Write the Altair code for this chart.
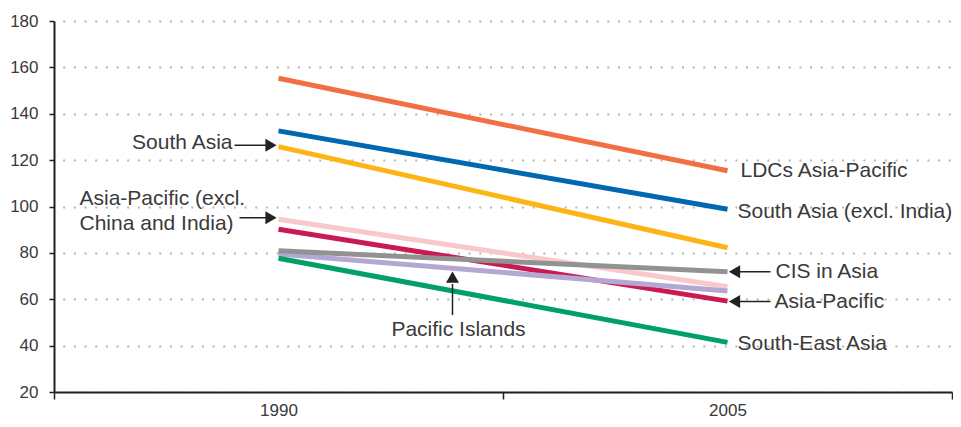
import altair as alt
import pandas as pd

# ---------------- data ----------------
years = ["1990", "2005"]
series_names = [
    "LDCs Asia-Pacific",
    "South Asia (excl. India)",
    "South Asia",
    "Asia-Pacific (excl. China and India)",
    "Asia-Pacific",
    "Pacific Islands",
    "CIS in Asia",
    "South-East Asia",
]
values_1990 = [155.3, 132.6, 125.8, 94.5, 90.2, 79.5, 80.9, 77.7]
values_2005 = [115.4, 98.8, 82.2, 65.4, 59.2, 63.6, 71.9, 41.4]
colors = ["#F26F43", "#0067B1", "#FDB515", "#F8C8CB", "#C91A51", "#B4A7D4", "#929292", "#00A066"]
y_ticks = [20, 40, 60, 80, 100, 120, 140, 160, 180]

rows = []
for order, (name, a, b) in enumerate(zip(series_names, values_1990, values_2005)):
    rows.append({"series": name, "year": years[0], "value": a, "order": order})
    rows.append({"series": name, "year": years[1], "value": b, "order": order})
df = pd.DataFrame(rows)

FONT = "Liberation Sans"
TXT = "#3a3a3a"
AXC = "#231f20"
ANN_SIZE = 21

x_enc = alt.X(
    "year:N",
    bandPosition=0.5,
    scale=alt.Scale(type="band", domain=years, paddingInner=0, paddingOuter=0),
    axis=alt.Axis(
        title=None, labelAngle=0, tickBand="extent", grid=False,
        domainColor=AXC, domainWidth=2, tickColor=AXC, tickWidth=1.5, tickSize=7,
        labelFont=FONT, labelFontSize=17, labelColor=TXT, labelPadding=3,
    ),
)
y_enc = alt.Y(
    "value:Q",
    scale=alt.Scale(domain=[20, 180], nice=False, zero=False),
    axis=alt.Axis(
        title=None, values=y_ticks, grid=True, gridColor="#b5b5b5", gridWidth=2,
        gridDash=[2, 8.67], gridDashOffset=2,
        domainColor=AXC, domainWidth=2, tickColor=AXC, tickWidth=1.5, tickSize=5,
        labelFont=FONT, labelFontSize=17, labelColor=TXT, labelPadding=11,
    ),
)

base = alt.Chart(df)

lines = base.mark_line(strokeWidth=5, strokeCap="butt").encode(
    x=x_enc,
    y=y_enc,
    color=alt.Color("series:N", scale=alt.Scale(domain=series_names, range=colors), legend=None),
    detail="series:N",
)


def at(name, year):
    return base.transform_filter((alt.datum.series == name) & (alt.datum.year == year))


def label(name, year, text, dx, dy, align="left"):
    return at(name, year).mark_text(
        text=text, dx=dx, dy=dy, align=align, baseline="middle",
        font=FONT, fontSize=ANN_SIZE, color=TXT,
    ).encode(x=x_enc, y=y_enc)


def harrow(name, year, x_from, x_to, dy, direction):
    # x_from/x_to: pixel offsets of the shaft ends relative to the anchor point
    shaft = at(name, year).mark_tick(
        orient="horizontal", size=abs(x_to - x_from), thickness=1.5, color="#222",
        xOffset=(x_from + x_to) / 2, yOffset=dy, opacity=1,
    ).encode(x=x_enc, y=y_enc)
    if direction == "right":
        head = at(name, year).mark_point(
            shape="triangle-right", filled=True, size=170, color="#222", opacity=1,
            xOffset=-7.5, yOffset=dy,
        ).encode(x=x_enc, y=y_enc)
    else:
        head = at(name, year).mark_point(
            shape="triangle-left", filled=True, size=170, color="#222", opacity=1,
            xOffset=7, yOffset=dy,
        ).encode(x=x_enc, y=y_enc)
    return shaft + head


# Pacific Islands vertical arrow
pi_shaft = at("Pacific Islands", "1990").mark_rule(
    color="#222", strokeWidth=1.5, xOffset=174, yOffset=30, y2Offset=61,
).encode(x=x_enc, y=y_enc, y2="value:Q")
pi_head = at("Pacific Islands", "1990").mark_point(
    shape="triangle-up", filled=True, size=170, color="#222", opacity=1,
    xOffset=174, yOffset=23,
).encode(x=x_enc, y=y_enc)

layers = [
    lines,
    label("South Asia", "1990", "South Asia", -46, -3.5, "right"),
    harrow("South Asia", "1990", -44, -12, -1.5, "right"),
    label("Asia-Pacific (excl. China and India)", "1990", "Asia-Pacific (excl.", -199, -20.5),
    label("Asia-Pacific (excl. China and India)", "1990", "China and India)", -199, 5),
    harrow("Asia-Pacific (excl. China and India)", "1990", -39, -12, -1.5, "right"),
    label("LDCs Asia-Pacific", "2005", "LDCs Asia-Pacific", 13, 0.5),
    label("South Asia (excl. India)", "2005", "South Asia (excl. India)", 10, 2.5),
    label("CIS in Asia", "2005", "CIS in Asia", 48, 0),
    harrow("CIS in Asia", "2005", 11, 43, 0, "left"),
    label("Asia-Pacific", "2005", "Asia-Pacific", 47, 1),
    harrow("Asia-Pacific", "2005", 11, 43, 0.5, "left"),
    label("South-East Asia", "2005", "South-East Asia", 10, 2),
    label("Pacific Islands", "1990", "Pacific Islands", 180, 76, "center"),
    pi_shaft,
    pi_head,
]

chart = alt.layer(*layers).properties(
    width=898,
    height=371,
    autosize=alt.AutoSizeParams(type="none"),
    padding={"left": 46, "top": 13, "right": 1, "bottom": 27},
).configure_view(stroke=None)

chart.save("out.html", embed_options={"renderer": "svg", "actions": False})
